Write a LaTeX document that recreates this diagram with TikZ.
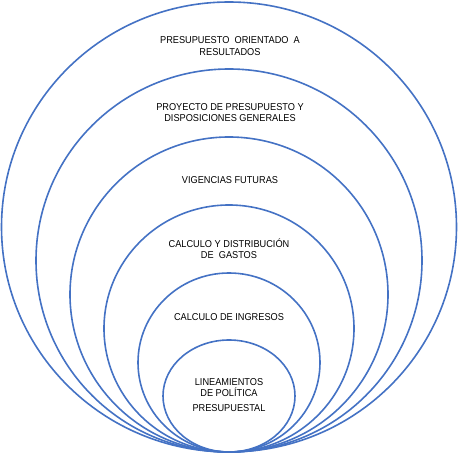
\documentclass[tikz,border=0pt]{standalone}
\usepackage{fontspec}
\setmainfont{Liberation Sans}[FakeStretch=0.92]
\usepackage{tikz}
\usetikzlibrary{positioning}
\definecolor{ringblue}{RGB}{68,114,196}

\begin{document}
\begin{tikzpicture}[x=1pt,y=-1pt,
  ring/.style={draw=ringblue, line width=1.6pt},
  label/.style={align=center, font=\fontsize{10}{11.5}\selectfont, text=black}]
\tikzstyle{every node}+=[inner sep=0pt]
\useasboundingbox (0,0) rectangle (458,454);
% rings, all touching at the bottom
\draw [ring] (229,227) ellipse (227.5 and 225);
\draw [ring] (229,260.5) ellipse (193 and 191.5);
\draw [ring] (229,294.5) ellipse (159 and 157.5);
\draw [ring] (229,328.5) ellipse (125 and 123.5);
\draw [ring] (229,362.5) ellipse (91 and 89.5);
\draw [ring] (229,396) ellipse (66 and 56);
% texts
\node [label] (resultados) at (230,46) {PRESUPUESTO\ \ ORIENTADO\ \ A\\RESULTADOS};
\node [label] (proyecto) at (230,112.5) {PROYECTO DE PRESUPUESTO Y\\DISPOSICIONES GENERALES};
\node [label] (vigencias) at (230,180) {VIGENCIAS\ FUTURAS};
\node [label] (gastos) at (229,248.5) {CALCULO Y DISTRIBUCIÓN\\DE\ \ GASTOS};
\node [label] (ingresos) at (229,317) {CALCULO DE INGRESOS};
\node [label] (lineamientos) at (229,395) {LINEAMIENTOS\\DE POLÍTICA\\[3pt]PRESUPUESTAL};
\end{tikzpicture}
\end{document}
